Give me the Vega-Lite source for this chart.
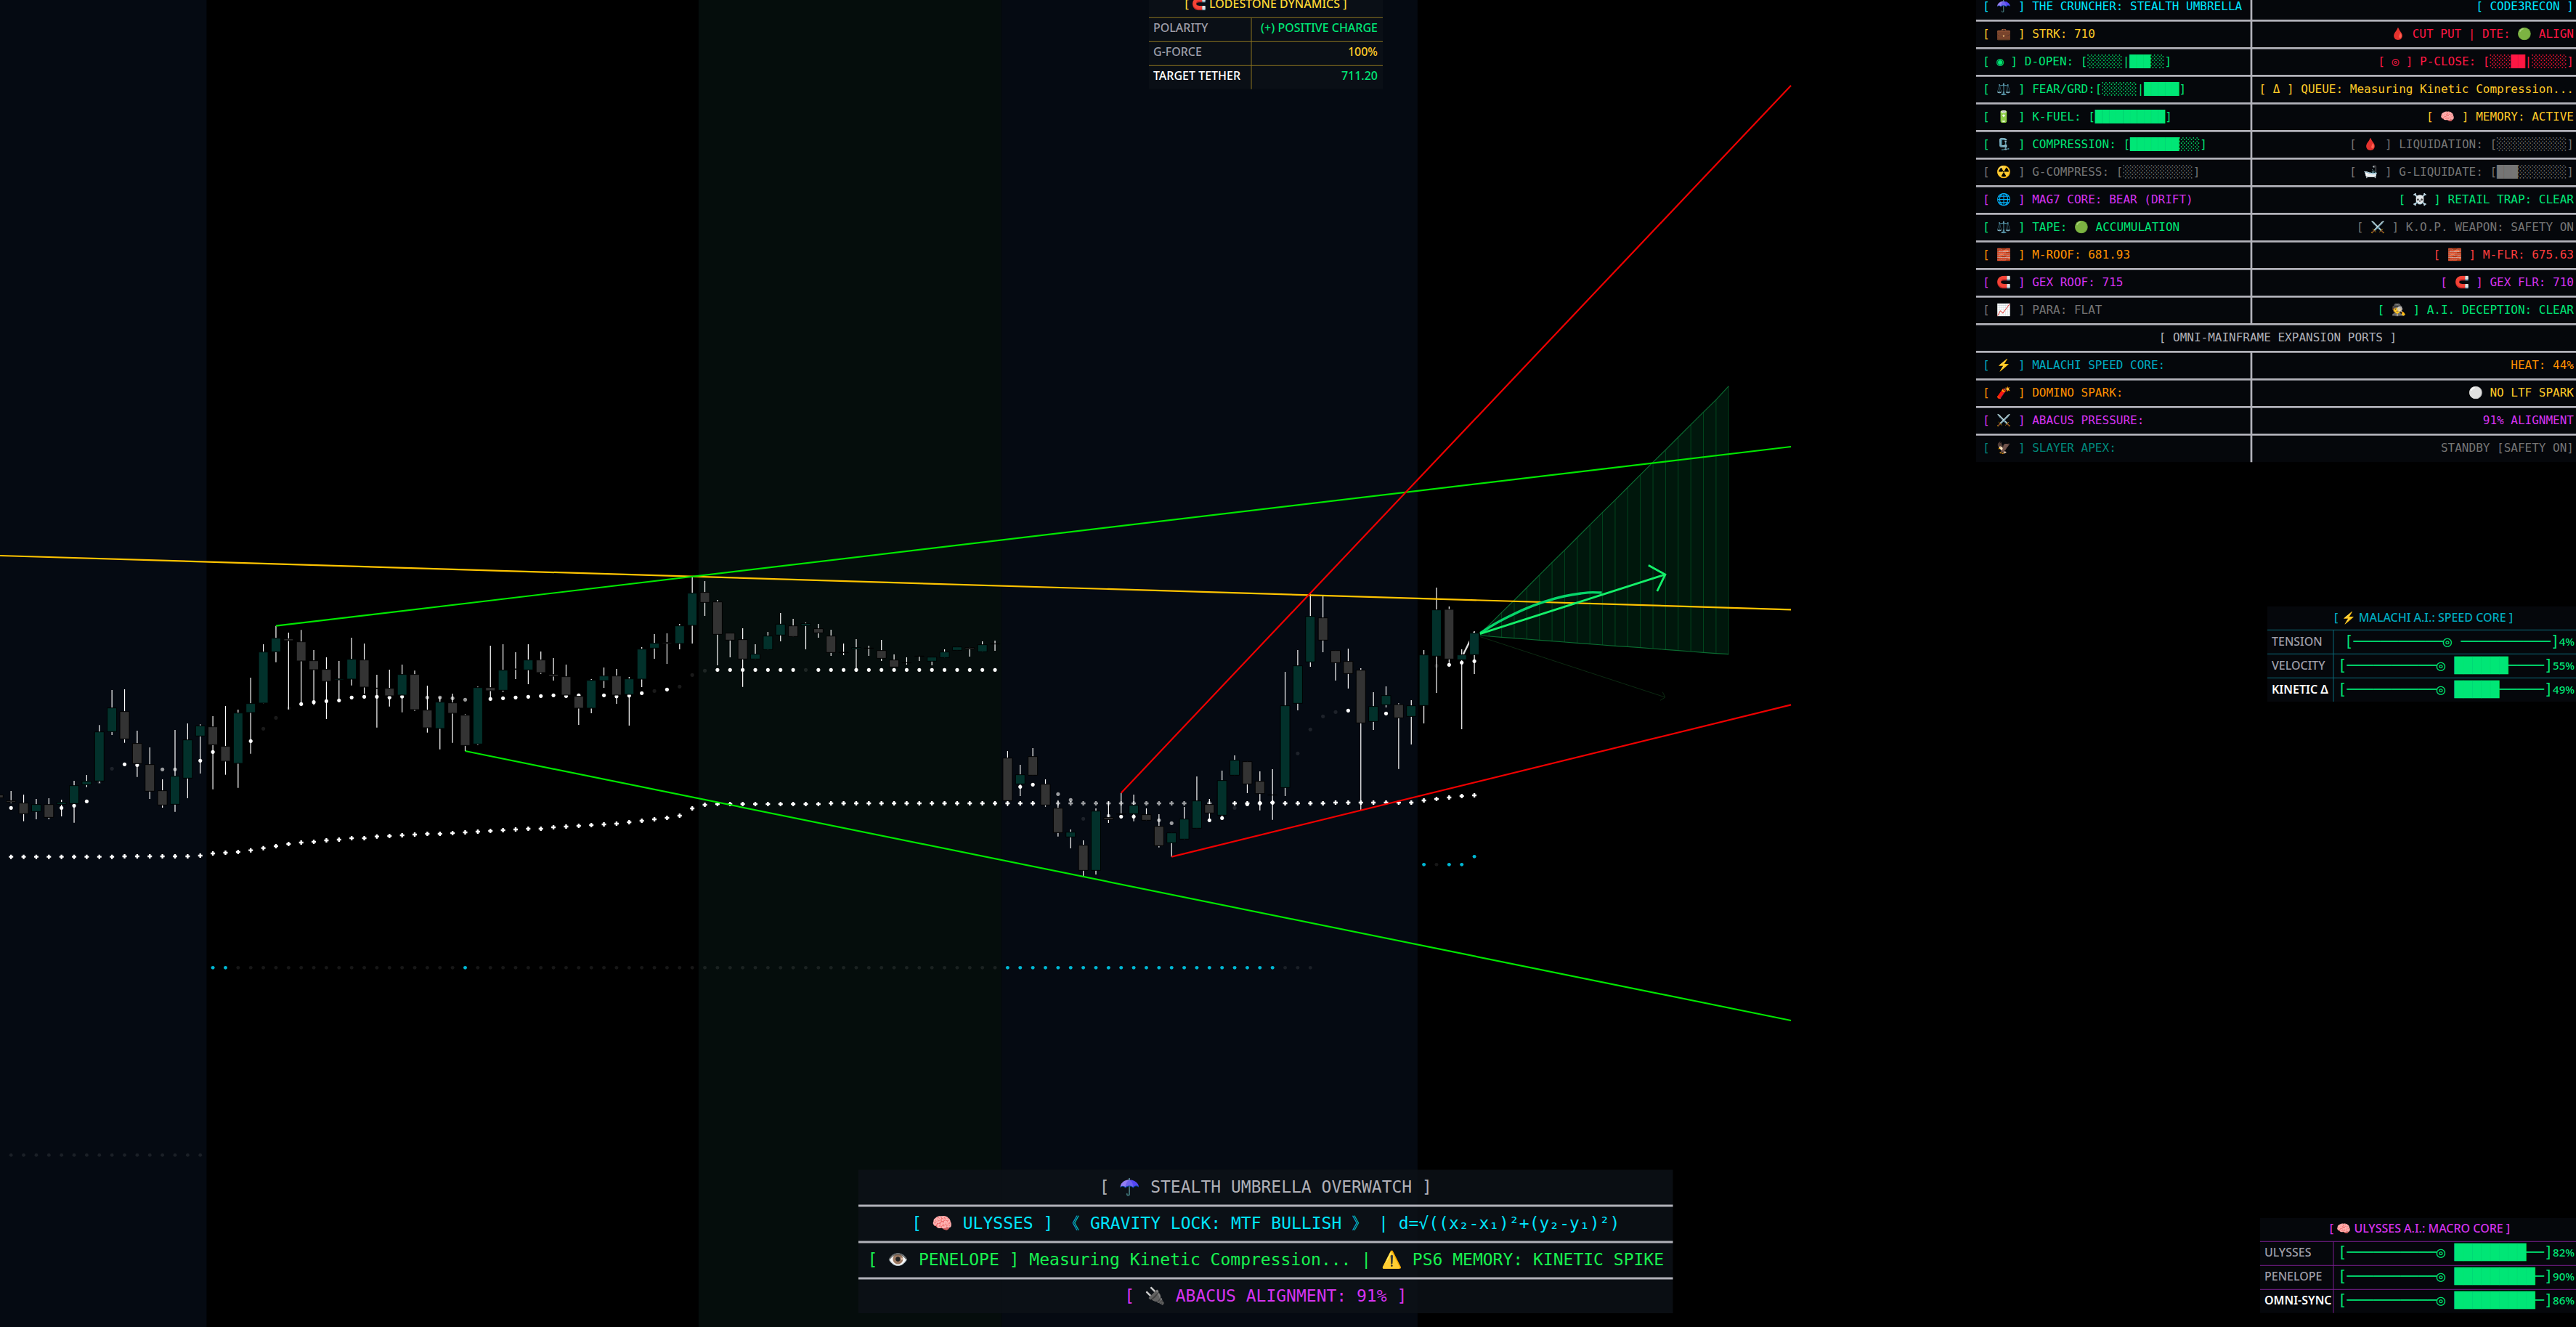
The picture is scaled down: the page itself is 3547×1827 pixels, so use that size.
{"$schema":"https://vega.github.io/schema/vega-lite/v6.json","width":3547,"height":1827,"padding":0,"autosize":"none","background":"#000000",
"config":{"view":{"stroke":null},"axis":{"disable":true},"legend":{"disable":true}},
"resolve":{"scale":{"x":"independent","y":"independent","color":"independent","opacity":"independent"}},
"datasets":{
"bands":[{"from":-0.875,"to":15.5,"z":"navy"},{"from":54.5,"to":78.5,"z":"forest"},{"from":78.5,"to":111.5,"z":"navy"}],
"candles":[
{"i":-1,"h":710.57,"l":710.45,"o":710.57,"c":710.45,"d":"down"},
{"i":0,"h":710.73,"l":710.22,"o":710.33,"c":710.27,"d":"down"},
{"i":1,"h":710.58,"l":709.48,"o":710.23,"c":709.79,"d":"down"},
{"i":2,"h":710.40,"l":709.56,"o":709.88,"c":710.17,"d":"up"},
{"i":3,"h":710.43,"l":709.56,"o":710.17,"c":709.64,"d":"down"},
{"i":4,"h":710.37,"l":709.68,"o":710.18,"c":710.26,"d":"up"},
{"i":5,"h":711.15,"l":709.42,"o":710.21,"c":710.95,"d":"up"},
{"i":6,"h":711.39,"l":710.89,"o":710.99,"c":711.13,"d":"up"},
{"i":7,"h":713.45,"l":711.05,"o":711.14,"c":713.17,"d":"up"},
{"i":8,"h":714.90,"l":713.04,"o":713.18,"c":714.16,"d":"up"},
{"i":9,"h":714.93,"l":712.72,"o":714.01,"c":712.88,"d":"down"},
{"i":10,"h":713.22,"l":711.31,"o":712.69,"c":711.86,"d":"down"},
{"i":11,"h":712.53,"l":710.40,"o":711.82,"c":710.72,"d":"down"},
{"i":12,"h":711.21,"l":710.04,"o":710.74,"c":710.15,"d":"down"},
{"i":13,"h":713.25,"l":709.87,"o":710.18,"c":711.34,"d":"up"},
{"i":14,"h":713.52,"l":710.43,"o":711.26,"c":712.84,"d":"up"},
{"i":15,"h":713.48,"l":711.45,"o":713.00,"c":713.42,"d":"up"},
{"i":16,"h":713.82,"l":710.80,"o":713.38,"c":712.64,"d":"down"},
{"i":17,"h":714.24,"l":711.40,"o":712.57,"c":711.96,"d":"down"},
{"i":18,"h":714.09,"l":710.86,"o":711.87,"c":713.95,"d":"up"},
{"i":19,"h":715.41,"l":712.27,"o":713.97,"c":714.34,"d":"up"},
{"i":20,"h":716.79,"l":714.35,"o":714.36,"c":716.47,"d":"up"},
{"i":21,"h":717.55,"l":716.05,"o":716.48,"c":717.04,"d":"up"},
{"i":22,"h":717.27,"l":714.10,"o":717.01,"c":716.94,"d":"down"},
{"i":23,"h":717.38,"l":714.30,"o":716.89,"c":716.10,"d":"down"},
{"i":24,"h":716.55,"l":714.28,"o":716.11,"c":715.74,"d":"down"},
{"i":25,"h":716.25,"l":713.70,"o":715.75,"c":715.26,"d":"down"},
{"i":26,"h":716.10,"l":714.45,"o":715.32,"c":715.36,"d":"up"},
{"i":27,"h":717.06,"l":715.09,"o":715.35,"c":716.17,"d":"up"},
{"i":28,"h":716.82,"l":714.75,"o":716.14,"c":715.02,"d":"down"},
{"i":29,"h":715.53,"l":713.35,"o":714.98,"c":714.96,"d":"down"},
{"i":30,"h":715.74,"l":714.22,"o":714.97,"c":714.66,"d":"down"},
{"i":31,"h":715.95,"l":713.98,"o":714.69,"c":715.54,"d":"up"},
{"i":32,"h":715.70,"l":714.04,"o":715.54,"c":714.09,"d":"down"},
{"i":33,"h":715.08,"l":713.14,"o":714.07,"c":713.34,"d":"down"},
{"i":34,"h":714.60,"l":712.45,"o":713.31,"c":714.40,"d":"up"},
{"i":35,"h":714.75,"l":712.72,"o":714.37,"c":713.94,"d":"down"},
{"i":36,"h":713.90,"l":712.38,"o":713.86,"c":712.61,"d":"down"},
{"i":37,"h":715.04,"l":712.63,"o":712.67,"c":715.00,"d":"up"},
{"i":38,"h":716.73,"l":714.55,"o":715.00,"c":714.87,"d":"down"},
{"i":39,"h":716.79,"l":714.82,"o":714.89,"c":715.72,"d":"up"},
{"i":40,"h":716.46,"l":715.35,"o":715.77,"c":715.75,"d":"down"},
{"i":41,"h":716.79,"l":715.14,"o":715.73,"c":716.14,"d":"up"},
{"i":42,"h":716.49,"l":715.57,"o":716.14,"c":715.62,"d":"down"},
{"i":43,"h":716.22,"l":715.29,"o":715.54,"c":715.47,"d":"down"},
{"i":44,"h":715.95,"l":714.60,"o":715.45,"c":714.69,"d":"down"},
{"i":45,"h":714.70,"l":713.46,"o":714.64,"c":714.15,"d":"down"},
{"i":46,"h":715.35,"l":713.94,"o":714.15,"c":715.30,"d":"up"},
{"i":47,"h":715.83,"l":714.99,"o":715.29,"c":715.48,"d":"up"},
{"i":48,"h":715.77,"l":714.33,"o":715.48,"c":714.69,"d":"down"},
{"i":49,"h":715.44,"l":713.43,"o":714.72,"c":715.36,"d":"up"},
{"i":50,"h":716.67,"l":715.02,"o":715.35,"c":716.59,"d":"up"},
{"i":51,"h":717.21,"l":716.19,"o":716.63,"c":716.83,"d":"up"},
{"i":52,"h":717.24,"l":715.98,"o":716.86,"c":716.82,"d":"down"},
{"i":53,"h":717.63,"l":716.58,"o":716.82,"c":717.55,"d":"up"},
{"i":54,"h":719.58,"l":716.82,"o":717.57,"c":718.90,"d":"up"},
{"i":55,"h":719.40,"l":717.96,"o":718.93,"c":718.52,"d":"down"},
{"i":56,"h":718.62,"l":715.92,"o":718.54,"c":717.20,"d":"down"},
{"i":57,"h":717.25,"l":716.25,"o":717.25,"c":716.96,"d":"down"},
{"i":58,"h":717.45,"l":715.03,"o":716.98,"c":716.18,"d":"down"},
{"i":59,"h":716.79,"l":716.17,"o":716.18,"c":716.38,"d":"up"},
{"i":60,"h":717.30,"l":716.55,"o":716.57,"c":717.13,"d":"up"},
{"i":61,"h":718.08,"l":716.91,"o":717.17,"c":717.62,"d":"up"},
{"i":62,"h":717.84,"l":717.10,"o":717.55,"c":717.11,"d":"down"},
{"i":63,"h":717.69,"l":716.58,"o":717.56,"c":717.64,"d":"up"},
{"i":64,"h":717.63,"l":717.06,"o":717.43,"c":717.26,"d":"down"},
{"i":65,"h":717.39,"l":716.31,"o":717.13,"c":716.45,"d":"down"},
{"i":66,"h":716.82,"l":716.34,"o":716.46,"c":716.44,"d":"down"},
{"i":67,"h":717.00,"l":715.65,"o":716.60,"c":716.65,"d":"up"},
{"i":68,"h":716.73,"l":716.31,"o":716.63,"c":716.62,"d":"down"},
{"i":69,"h":716.97,"l":716.10,"o":716.53,"c":716.21,"d":"down"},
{"i":70,"h":716.37,"l":715.85,"o":716.14,"c":715.85,"d":"down"},
{"i":71,"h":716.25,"l":715.95,"o":716.03,"c":716.02,"d":"down"},
{"i":72,"h":716.31,"l":716.10,"o":716.30,"c":716.29,"d":"down"},
{"i":73,"h":716.26,"l":715.92,"o":716.09,"c":716.26,"d":"up"},
{"i":74,"h":716.58,"l":716.23,"o":716.24,"c":716.47,"d":"up"},
{"i":75,"h":716.68,"l":716.54,"o":716.54,"c":716.68,"d":"up"},
{"i":76,"h":716.66,"l":716.28,"o":716.65,"c":716.60,"d":"down"},
{"i":77,"h":716.91,"l":716.47,"o":716.48,"c":716.77,"d":"up"},
{"i":78,"h":716.94,"l":716.52,"o":716.81,"c":716.80,"d":"down"},
{"i":79,"h":712.38,"l":710.10,"o":712.09,"c":710.33,"d":"down"},
{"i":80,"h":711.81,"l":710.52,"o":711.02,"c":711.40,"d":"up"},
{"i":81,"h":712.50,"l":711.38,"o":712.15,"c":711.38,"d":"down"},
{"i":82,"h":711.21,"l":710.08,"o":711.01,"c":710.15,"d":"down"},
{"i":83,"h":710.35,"l":708.85,"o":710.02,"c":709.01,"d":"down"},
{"i":84,"h":709.14,"l":708.36,"o":708.83,"c":709.03,"d":"up"},
{"i":85,"h":708.69,"l":707.19,"o":708.49,"c":707.45,"d":"down"},
{"i":86,"h":710.01,"l":707.28,"o":707.45,"c":709.90,"d":"up"},
{"i":87,"h":710.30,"l":709.41,"o":709.63,"c":709.55,"d":"down"},
{"i":88,"h":710.65,"l":709.78,"o":709.79,"c":709.77,"d":"down"},
{"i":89,"h":710.58,"l":709.48,"o":709.79,"c":710.14,"d":"up"},
{"i":90,"h":710.01,"l":709.51,"o":709.75,"c":709.52,"d":"down"},
{"i":91,"h":709.77,"l":708.40,"o":709.27,"c":708.47,"d":"down"},
{"i":92,"h":709.00,"l":708.01,"o":708.59,"c":709.00,"d":"up"},
{"i":93,"h":710.07,"l":708.73,"o":708.74,"c":709.57,"d":"up"},
{"i":94,"h":711.33,"l":709.19,"o":709.19,"c":710.32,"d":"up"},
{"i":95,"h":710.40,"l":709.52,"o":710.17,"c":709.82,"d":"down"},
{"i":96,"h":711.57,"l":709.60,"o":709.73,"c":711.16,"d":"up"},
{"i":97,"h":712.20,"l":711.38,"o":711.38,"c":712.00,"d":"up"},
{"i":98,"h":711.94,"l":710.64,"o":711.94,"c":711.02,"d":"down"},
{"i":99,"h":711.54,"l":709.93,"o":711.13,"c":710.62,"d":"down"},
{"i":100,"h":711.63,"l":709.54,"o":710.57,"c":710.56,"d":"down"},
{"i":101,"h":715.65,"l":710.52,"o":710.87,"c":714.25,"d":"up"},
{"i":102,"h":716.55,"l":714.06,"o":714.35,"c":715.90,"d":"up"},
{"i":103,"h":718.88,"l":715.86,"o":716.06,"c":717.94,"d":"up"},
{"i":104,"h":718.78,"l":716.46,"o":717.88,"c":716.96,"d":"down"},
{"i":105,"h":716.53,"l":715.29,"o":716.53,"c":716.03,"d":"down"},
{"i":106,"h":716.61,"l":714.96,"o":716.08,"c":715.58,"d":"down"},
{"i":107,"h":715.80,"l":709.93,"o":715.72,"c":713.54,"d":"down"},
{"i":108,"h":714.81,"l":713.25,"o":713.60,"c":714.22,"d":"up"},
{"i":109,"h":715.05,"l":714.18,"o":714.29,"c":714.67,"d":"up"},
{"i":110,"h":714.35,"l":711.64,"o":714.30,"c":713.75,"d":"down"},
{"i":111,"h":714.48,"l":712.65,"o":713.81,"c":714.25,"d":"up"},
{"i":112,"h":716.55,"l":713.52,"o":714.26,"c":716.35,"d":"up"},
{"i":113,"h":719.13,"l":714.78,"o":716.30,"c":718.21,"d":"up"},
{"i":114,"h":718.35,"l":716.02,"o":718.23,"c":716.18,"d":"down"},
{"i":115,"h":716.58,"l":713.28,"o":716.15,"c":716.35,"d":"up"},
{"i":116,"h":717.33,"l":715.56,"o":716.36,"c":717.25,"d":"up"}
],
"trail":[
{"i":0,"p":710.03,"s":1},{"i":4,"p":710.03,"s":1},{"i":5,"p":710.12,"s":1},{"i":6,"p":710.30,"s":1},{"i":7,"p":711.10,"s":0.1},{"i":8,"p":711.65,"s":0.1},{"i":9,"p":711.83,"s":1},{"i":10,"p":711.80,"s":1},{"i":12,"p":711.62,"s":0.6},{"i":13,"p":711.62,"s":0.6},{"i":15,"p":711.98,"s":1},{"i":16,"p":712.34,"s":1},{"i":19,"p":712.79,"s":1},{"i":20,"p":713.30,"s":0.1},{"i":21,"p":713.75,"s":0.1},{"i":22,"p":714.15,"s":0.1},{"i":23,"p":714.32,"s":1},{"i":24,"p":714.40,"s":1},{"i":25,"p":714.44,"s":1},{"i":26,"p":714.47,"s":1},{"i":27,"p":714.59,"s":1},{"i":28,"p":714.62,"s":1},{"i":29,"p":714.62,"s":1},{"i":30,"p":714.59,"s":1},{"i":31,"p":714.63,"s":1},{"i":33,"p":714.59,"s":0.6},{"i":34,"p":714.59,"s":0.6},{"i":35,"p":714.56,"s":0.6},{"i":36,"p":714.50,"s":0.6},{"i":38,"p":714.53,"s":1},{"i":39,"p":714.56,"s":1},
{"i":40,"p":714.59,"s":1},{"i":41,"p":714.62,"s":1},{"i":42,"p":714.65,"s":1},{"i":43,"p":714.68,"s":1},{"i":44,"p":714.65,"s":1},{"i":45,"p":714.68,"s":1},{"i":47,"p":714.68,"s":1},{"i":48,"p":714.64,"s":1},{"i":49,"p":714.67,"s":1},{"i":50,"p":714.77,"s":1},{"i":51,"p":714.86,"s":0.1},{"i":52,"p":714.92,"s":1},{"i":53,"p":715.04,"s":0.1},{"i":54,"p":715.52,"s":0.1},{"i":55,"p":715.70,"s":0.1},
{"i":56,"p":715.73,"s":1},{"i":57,"p":715.73,"s":1},{"i":58,"p":715.73,"s":1},{"i":59,"p":715.73,"s":1},{"i":60,"p":715.73,"s":1},{"i":61,"p":715.73,"s":1},{"i":62,"p":715.73,"s":1},{"i":63,"p":715.73,"s":0.1},{"i":64,"p":715.73,"s":1},{"i":65,"p":715.73,"s":1},{"i":66,"p":715.73,"s":1},{"i":67,"p":715.73,"s":1},{"i":68,"p":715.73,"s":1},{"i":69,"p":715.73,"s":1},{"i":70,"p":715.73,"s":1},{"i":71,"p":715.73,"s":1},{"i":72,"p":715.73,"s":1},{"i":73,"p":715.73,"s":1},{"i":74,"p":715.73,"s":1},{"i":75,"p":715.73,"s":1},{"i":76,"p":715.73,"s":1},{"i":77,"p":715.73,"s":1},{"i":78,"p":715.73,"s":1},
{"i":80,"p":710.90,"s":1},{"i":81,"p":710.99,"s":1},{"i":83,"p":710.60,"s":0.6},{"i":84,"p":710.36,"s":0.6},{"i":85,"p":709.58,"s":0.1},{"i":87,"p":709.70,"s":0.6},{"i":88,"p":709.67,"s":1},{"i":89,"p":709.67,"s":1},{"i":91,"p":709.52,"s":0.6},{"i":92,"p":709.40,"s":0.6},{"i":95,"p":709.52,"s":1},{"i":96,"p":709.61,"s":1},{"i":97,"p":710.03,"s":0.1},{"i":98,"p":710.18,"s":1},{"i":99,"p":710.23,"s":1},{"i":100,"p":710.25,"s":1},{"i":102,"p":712.28,"s":0.1},{"i":103,"p":713.27,"s":0.1},{"i":104,"p":713.81,"s":0.1},{"i":105,"p":713.99,"s":0.1},{"i":106,"p":714.05,"s":1},{"i":109,"p":713.93,"s":1},{"i":113,"p":715.90,"s":0.1},{"i":114,"p":715.94,"s":1},{"i":115,"p":716.03,"s":1},{"i":116,"p":716.09,"s":1}
],
"quiet":[
{"i":0,"p":695.69},{"i":1,"p":695.69},{"i":2,"p":695.69},{"i":3,"p":695.69},{"i":4,"p":695.69},{"i":5,"p":695.69},{"i":6,"p":695.69},{"i":7,"p":695.69},{"i":8,"p":695.69},{"i":9,"p":695.69},{"i":10,"p":695.69},{"i":11,"p":695.69},{"i":12,"p":695.69},{"i":13,"p":695.69},{"i":14,"p":695.69},{"i":15,"p":695.69},
{"i":18,"p":703.43},{"i":19,"p":703.43},{"i":20,"p":703.43},{"i":21,"p":703.43},{"i":22,"p":703.43},{"i":23,"p":703.43},{"i":24,"p":703.43},{"i":25,"p":703.43},{"i":26,"p":703.43},{"i":27,"p":703.43},{"i":28,"p":703.43},{"i":29,"p":703.43},{"i":30,"p":703.43},{"i":31,"p":703.43},{"i":32,"p":703.43},{"i":33,"p":703.43},{"i":34,"p":703.43},{"i":35,"p":703.43},
{"i":37,"p":703.43},{"i":38,"p":703.43},{"i":39,"p":703.43},{"i":40,"p":703.43},{"i":41,"p":703.43},{"i":42,"p":703.43},{"i":43,"p":703.43},{"i":44,"p":703.43},{"i":45,"p":703.43},{"i":46,"p":703.43},{"i":47,"p":703.43},{"i":48,"p":703.43},{"i":49,"p":703.43},{"i":50,"p":703.43},{"i":51,"p":703.43},{"i":52,"p":703.43},{"i":53,"p":703.43},{"i":54,"p":703.43},{"i":55,"p":703.43},{"i":56,"p":703.43},{"i":57,"p":703.43},{"i":58,"p":703.43},{"i":59,"p":703.43},{"i":60,"p":703.43},{"i":61,"p":703.43},{"i":62,"p":703.43},{"i":63,"p":703.43},{"i":64,"p":703.43},{"i":65,"p":703.43},{"i":66,"p":703.43},{"i":67,"p":703.43},{"i":68,"p":703.43},{"i":69,"p":703.43},{"i":70,"p":703.43},{"i":71,"p":703.43},{"i":72,"p":703.43},{"i":73,"p":703.43},{"i":74,"p":703.43},{"i":75,"p":703.43},{"i":76,"p":703.43},{"i":77,"p":703.43},{"i":78,"p":703.43},
{"i":101,"p":703.43},{"i":102,"p":703.43},{"i":103,"p":703.43},{"i":113,"p":707.69}
],
"cyan":[
{"i":16,"p":703.43},{"i":17,"p":703.43},{"i":36,"p":703.43},{"i":79,"p":703.43},{"i":80,"p":703.43},{"i":81,"p":703.43},{"i":82,"p":703.43},{"i":83,"p":703.43},{"i":84,"p":703.43},{"i":85,"p":703.43},{"i":86,"p":703.43},{"i":87,"p":703.43},{"i":88,"p":703.43},{"i":89,"p":703.43},{"i":90,"p":703.43},{"i":91,"p":703.43},{"i":92,"p":703.43},{"i":93,"p":703.43},{"i":94,"p":703.43},{"i":95,"p":703.43},{"i":96,"p":703.43},{"i":97,"p":703.43},{"i":98,"p":703.43},{"i":99,"p":703.43},{"i":100,"p":703.43},
{"i":112,"p":707.69},{"i":114,"p":707.69},{"i":115,"p":707.69},{"i":116,"p":708.02}
],
"crosses":[
{"i":0,"p":708.01,"s":1},{"i":1,"p":708.01,"s":1},{"i":2,"p":708.01,"s":1},{"i":3,"p":708.01,"s":1},{"i":4,"p":708.01,"s":1},{"i":5,"p":708.01,"s":1},{"i":6,"p":708.01,"s":1},{"i":7,"p":708.01,"s":1},{"i":8,"p":708.01,"s":1},{"i":9,"p":708.03,"s":1},{"i":10,"p":708.03,"s":1},{"i":11,"p":708.03,"s":1},{"i":12,"p":708.03,"s":1},{"i":13,"p":708.03,"s":1},{"i":14,"p":708.03,"s":1},{"i":15,"p":708.06,"s":1},{"i":16,"p":708.15,"s":1},{"i":17,"p":708.18,"s":1},{"i":18,"p":708.21,"s":1},{"i":19,"p":708.28,"s":1},{"i":20,"p":708.37,"s":1},{"i":21,"p":708.45,"s":1},{"i":22,"p":708.54,"s":1},{"i":23,"p":708.60,"s":1},{"i":24,"p":708.63,"s":1},{"i":25,"p":708.69,"s":1},{"i":26,"p":708.72,"s":1},{"i":27,"p":708.78,"s":1},{"i":28,"p":708.78,"s":1},{"i":29,"p":708.85,"s":1},{"i":30,"p":708.87,"s":1},{"i":31,"p":708.90,"s":1},{"i":32,"p":708.93,"s":1},{"i":33,"p":708.96,"s":1},{"i":34,"p":708.96,"s":1},{"i":35,"p":708.99,"s":1},{"i":36,"p":709.02,"s":1},{"i":37,"p":709.05,"s":1},{"i":38,"p":709.08,"s":1},{"i":39,"p":709.11,"s":1},
{"i":40,"p":709.14,"s":1},{"i":41,"p":709.17,"s":1},{"i":42,"p":709.17,"s":1},{"i":43,"p":709.23,"s":1},{"i":44,"p":709.26,"s":1},{"i":45,"p":709.29,"s":1},{"i":46,"p":709.32,"s":1},{"i":47,"p":709.35,"s":1},{"i":48,"p":709.38,"s":1},{"i":49,"p":709.44,"s":1},{"i":50,"p":709.50,"s":1},{"i":51,"p":709.56,"s":1},{"i":52,"p":709.62,"s":1},{"i":53,"p":709.71,"s":1},{"i":54,"p":710.01,"s":1},{"i":55,"p":710.16,"s":1},
{"i":56,"p":710.19,"s":1},{"i":57,"p":710.19,"s":1},{"i":58,"p":710.19,"s":1},{"i":59,"p":710.19,"s":1},{"i":60,"p":710.19,"s":1},{"i":61,"p":710.19,"s":1},{"i":62,"p":710.19,"s":1},{"i":63,"p":710.19,"s":1},{"i":64,"p":710.19,"s":1},{"i":65,"p":710.22,"s":1},{"i":66,"p":710.22,"s":1},{"i":67,"p":710.22,"s":1},{"i":68,"p":710.22,"s":1},{"i":69,"p":710.22,"s":1},{"i":70,"p":710.22,"s":1},{"i":71,"p":710.22,"s":1},{"i":72,"p":710.22,"s":1},{"i":73,"p":710.22,"s":1},{"i":74,"p":710.22,"s":1},{"i":75,"p":710.22,"s":1},{"i":76,"p":710.22,"s":1},{"i":77,"p":710.22,"s":1},{"i":78,"p":710.22,"s":1},{"i":79,"p":710.22,"s":1},
{"i":80,"p":710.22,"s":1},{"i":81,"p":710.22,"s":1},{"i":82,"p":710.22,"s":1},{"i":83,"p":710.22,"s":0.6},{"i":84,"p":710.22,"s":0.6},{"i":85,"p":710.22,"s":0.6},{"i":86,"p":710.22,"s":0.6},{"i":87,"p":710.22,"s":0.6},{"i":88,"p":710.22,"s":0.6},{"i":89,"p":710.22,"s":0.6},{"i":90,"p":710.22,"s":0.6},{"i":91,"p":710.22,"s":0.6},{"i":92,"p":710.22,"s":0.6},{"i":93,"p":710.22,"s":0.6},{"i":94,"p":710.22,"s":0.6},{"i":95,"p":710.22,"s":0.6},{"i":96,"p":710.22,"s":1},{"i":97,"p":710.22,"s":1},{"i":98,"p":710.22,"s":1},{"i":99,"p":710.22,"s":1},{"i":100,"p":710.25,"s":1},{"i":101,"p":710.22,"s":1},{"i":102,"p":710.22,"s":1},{"i":103,"p":710.22,"s":1},{"i":104,"p":710.22,"s":1},{"i":105,"p":710.25,"s":1},{"i":106,"p":710.25,"s":1},{"i":107,"p":710.25,"s":1},{"i":108,"p":710.25,"s":1},{"i":109,"p":710.25,"s":1},{"i":110,"p":710.25,"s":1},{"i":111,"p":710.25,"s":1},{"i":112,"p":710.34,"s":1},{"i":113,"p":710.40,"s":1},{"i":114,"p":710.46,"s":1},{"i":115,"p":710.52,"s":1},{"i":116,"p":710.55,"s":1}
],
"fan":[
{"i":116.45,"top":717.22,"bot":717.15},{"i":117.16,"top":717.58,"bot":717.12},{"i":118.16,"top":718.10,"bot":717.08},{"i":119.16,"top":718.61,"bot":717.04},{"i":120.16,"top":719.13,"bot":717.00},{"i":121.16,"top":719.65,"bot":716.96},{"i":122.16,"top":720.17,"bot":716.92},{"i":123.16,"top":720.68,"bot":716.88},{"i":124.16,"top":721.20,"bot":716.84},{"i":125.16,"top":721.72,"bot":716.80},{"i":126.16,"top":722.24,"bot":716.76},{"i":127.16,"top":722.75,"bot":716.72},{"i":128.16,"top":723.27,"bot":716.69},{"i":129.16,"top":723.79,"bot":716.65},{"i":130.16,"top":724.31,"bot":716.61},{"i":131.16,"top":724.82,"bot":716.57},{"i":132.16,"top":725.34,"bot":716.53},{"i":133.16,"top":725.86,"bot":716.49},{"i":134.16,"top":726.38,"bot":716.45},{"i":135.16,"top":726.89,"bot":716.41},{"i":136.16,"top":727.45,"bot":716.38}
],
"trends":[
{"n":"gold","seg":"a","i":-0.875,"p":720.45},{"n":"gold","seg":"a","i":141.1,"p":718.22},
{"n":"lime","seg":"b","i":21,"p":717.55},{"n":"lime","seg":"b","i":141.1,"p":724.95},
{"n":"lime","seg":"c","i":36,"p":712.38},{"n":"lime","seg":"c","i":141.1,"p":701.25},
{"n":"scarlet","seg":"d","i":88,"p":710.65},{"n":"scarlet","seg":"d","i":141.1,"p":739.87},
{"n":"scarlet","seg":"e","i":92,"p":708.01},{"n":"scarlet","seg":"e","i":141.1,"p":714.29}
],
"arrows":[
{"k":"bright","seg":"shaft","ord":0,"i":116.45,"p":717.22},{"k":"bright","seg":"shaft","ord":1,"i":131.13,"p":719.67},
{"k":"bright","seg":"head","ord":0,"i":129.8,"p":720.05},{"k":"bright","seg":"head","ord":1,"i":131.13,"p":719.67},{"k":"bright","seg":"head","ord":2,"i":130.49,"p":718.98},
{"k":"arc","seg":"arc","ord":0,"i":116.47,"p":717.25},{"k":"arc","seg":"arc","ord":1,"i":117.53,"p":717.60},{"k":"arc","seg":"arc","ord":2,"i":118.68,"p":717.92},{"k":"arc","seg":"arc","ord":3,"i":120.02,"p":718.25},{"k":"arc","seg":"arc","ord":4,"i":121.56,"p":718.55},{"k":"arc","seg":"arc","ord":5,"i":123.09,"p":718.77},{"k":"arc","seg":"arc","ord":6,"i":124.44,"p":718.89},{"k":"arc","seg":"arc","ord":7,"i":125.39,"p":718.93},{"k":"arc","seg":"arc","ord":8,"i":126.1,"p":718.92},
{"k":"dim","seg":"dshaft","ord":0,"i":116.47,"p":717.10},{"k":"dim","seg":"dshaft","ord":1,"i":131.13,"p":714.60},
{"k":"dim","seg":"dhead","ord":0,"i":130.92,"p":714.82},{"k":"dim","seg":"dhead","ord":1,"i":131.13,"p":714.60},{"k":"dim","seg":"dhead","ord":2,"i":130.73,"p":714.47}
],
"glints":[{"i":115.13,"p":716.38,"ord":0},{"i":116,"p":717.30,"ord":1}],
"frames":[{"f":"core","x0":0,"x1":1,"y0":0.5,"y1":17.5},{"f":"dock","x0":0,"x1":1,"y0":0.51,"y1":4.46},{"f":"lode","x0":0,"x1":1,"y0":-0.5,"y1":3.53},{"f":"mal","x0":0,"x1":1,"y0":-0.47,"y1":3.5},{"f":"uly","x0":0,"x1":1,"y0":-0.46,"y1":3.5}],
"rules":[
{"f":"core","x0":0,"x1":1,"y0":1.5,"y1":1.5},{"f":"core","x0":0,"x1":1,"y0":2.5,"y1":2.5},{"f":"core","x0":0,"x1":1,"y0":3.5,"y1":3.5},{"f":"core","x0":0,"x1":1,"y0":4.5,"y1":4.5},{"f":"core","x0":0,"x1":1,"y0":5.5,"y1":5.5},{"f":"core","x0":0,"x1":1,"y0":6.5,"y1":6.5},{"f":"core","x0":0,"x1":1,"y0":7.5,"y1":7.5},{"f":"core","x0":0,"x1":1,"y0":8.5,"y1":8.5},{"f":"core","x0":0,"x1":1,"y0":9.5,"y1":9.5},{"f":"core","x0":0,"x1":1,"y0":10.5,"y1":10.5},{"f":"core","x0":0,"x1":1,"y0":11.5,"y1":11.5},{"f":"core","x0":0,"x1":1,"y0":12.5,"y1":12.5},{"f":"core","x0":0,"x1":1,"y0":13.5,"y1":13.5},{"f":"core","x0":0,"x1":1,"y0":14.5,"y1":14.5},{"f":"core","x0":0,"x1":1,"y0":15.5,"y1":15.5},{"f":"core","x0":0,"x1":1,"y0":16.5,"y1":16.5},
{"f":"core","x0":0.4588,"x1":0.4588,"y0":0.5,"y1":12.5},{"f":"core","x0":0.4588,"x1":0.4588,"y0":13.5,"y1":17.5},
{"f":"dock","x0":0,"x1":1,"y0":1.5,"y1":1.5},{"f":"dock","x0":0,"x1":1,"y0":2.5,"y1":2.5},{"f":"dock","x0":0,"x1":1,"y0":3.5,"y1":3.5},
{"f":"lode","x0":0,"x1":1,"y0":0.545,"y1":0.545},{"f":"lode","x0":0,"x1":1,"y0":1.545,"y1":1.545},{"f":"lode","x0":0,"x1":1,"y0":2.545,"y1":2.545},{"f":"lode","x0":0.438,"x1":0.438,"y0":0.545,"y1":3.53},
{"f":"mal","x0":0,"x1":1,"y0":0.506,"y1":0.506},{"f":"mal","x0":0,"x1":1,"y0":1.506,"y1":1.506},{"f":"mal","x0":0,"x1":1,"y0":2.506,"y1":2.506},{"f":"mal","x0":0.2141,"x1":0.2141,"y0":0.506,"y1":3.5},
{"f":"uly","x0":0,"x1":1,"y0":0.515,"y1":0.515},{"f":"uly","x0":0,"x1":1,"y0":1.515,"y1":1.515},{"f":"uly","x0":0,"x1":1,"y0":2.515,"y1":2.515},{"f":"uly","x0":0.2322,"x1":0.2322,"y0":0.515,"y1":3.5}
],
"core":[
{"r":1,"side":"L","t":"[ ☂️ ] THE CRUNCHER: STEALTH UMBRELLA","tone":"cyan"},{"r":1,"side":"R","t":"[ CODE3RECON ]","tone":"cyan"},
{"r":2,"side":"L","t":"[ 💼 ] STRK: 710","tone":"yellow"},{"r":2,"side":"R","t":"🩸 CUT PUT | DTE: 🟢 ALIGN","tone":"red"},
{"r":3,"side":"L","t":"[ ◉ ] D-OPEN: [░░░░░|███░░]","tone":"green"},{"r":3,"side":"R","t":"[ ◎ ] P-CLOSE: [░░░██|░░░░░]","tone":"red"},
{"r":4,"side":"L","t":"[ ⚖️ ] FEAR/GRD:[░░░░░|█████]","tone":"green"},{"r":4,"side":"R","t":"[ Δ ] QUEUE: Measuring Kinetic Compression...","tone":"yellow"},
{"r":5,"side":"L","t":"[ 🔋 ] K-FUEL: [██████████]","tone":"green"},{"r":5,"side":"R","t":"[ 🧠 ] MEMORY: ACTIVE","tone":"yellow"},
{"r":6,"side":"L","t":"[ 🗜️ ] COMPRESSION: [███████░░░]","tone":"green"},{"r":6,"side":"R","t":"[ 🩸 ] LIQUIDATION: [░░░░░░░░░░]","tone":"gray"},
{"r":7,"side":"L","t":"[ ☢️ ] G-COMPRESS: [░░░░░░░░░░]","tone":"gray"},{"r":7,"side":"R","t":"[ 🛁 ] G-LIQUIDATE: [███░░░░░░░]","tone":"gray"},
{"r":8,"side":"L","t":"[ 🌐 ] MAG7 CORE: BEAR (DRIFT)","tone":"magenta"},{"r":8,"side":"R","t":"[ ☠️ ] RETAIL TRAP: CLEAR","tone":"green"},
{"r":9,"side":"L","t":"[ ⚖️ ] TAPE: 🟢 ACCUMULATION","tone":"green"},{"r":9,"side":"R","t":"[ ⚔️ ] K.O.P. WEAPON: SAFETY ON","tone":"gray"},
{"r":10,"side":"L","t":"[ 🧱 ] M-ROOF: 681.93","tone":"orange"},{"r":10,"side":"R","t":"[ 🧱 ] M-FLR: 675.63","tone":"coral"},
{"r":11,"side":"L","t":"[ 🧲 ] GEX ROOF: 715","tone":"magenta"},{"r":11,"side":"R","t":"[ 🧲 ] GEX FLR: 710","tone":"magenta"},
{"r":12,"side":"L","t":"[ 📈 ] PARA: FLAT","tone":"gray"},{"r":12,"side":"R","t":"[ 🕵️ ] A.I. DECEPTION: CLEAR","tone":"green"},
{"r":13,"side":"C","t":"[ OMNI-MAINFRAME EXPANSION PORTS ]","tone":"light"},
{"r":14,"side":"L","t":"[ ⚡️ ] MALACHI SPEED CORE:","tone":"blue"},{"r":14,"side":"R","t":"HEAT: 44%","tone":"orange"},
{"r":15,"side":"L","t":"[ 🧨 ] DOMINO SPARK:","tone":"orange"},{"r":15,"side":"R","t":"⚪ NO LTF SPARK","tone":"yellow"},
{"r":16,"side":"L","t":"[ ⚔️ ] ABACUS PRESSURE:","tone":"magenta"},{"r":16,"side":"R","t":"91% ALIGNMENT","tone":"magenta"},
{"r":17,"side":"L","t":"[ 🦅 ] SLAYER APEX:","tone":"teal"},{"r":17,"side":"R","t":"STANDBY [SAFETY ON]","tone":"gray"}
],
"dock":[
{"r":1,"t":"[ ☂️ STEALTH UMBRELLA OVERWATCH ]","tone":"light"},
{"r":2,"t":"[ 🧠 ULYSSES ] 《 GRAVITY LOCK: MTF BULLISH 》 | d=√((x₂-x₁)²+(y₂-y₁)²)","tone":"cyan"},
{"r":3,"t":"[ 👁️ PENELOPE ] Measuring Kinetic Compression... | ⚠️ PS6 MEMORY: KINETIC SPIKE","tone":"lime"},
{"r":4,"t":"[ 🔌 ABACUS ALIGNMENT: 91% ]","tone":"magenta"}
],
"lode":[
{"r":1,"a":"POLARITY","b":"(+) POSITIVE CHARGE","tone":"green","tl":"gray"},
{"r":2,"a":"G-FORCE","b":"100%","tone":"yellow","tl":"gray"},
{"r":3,"a":"TARGET TETHER","b":"711.20","tone":"green","tl":"white"}
],
"gauges":[
{"f":"mal","r":1,"a":"TENSION","pct":4,"g":"[──────────◎ ──────────]","b":"4%"},
{"f":"mal","r":2,"a":"VELOCITY","pct":55,"g":"[──────────◎ ██████────]","b":"55%"},
{"f":"mal","r":3,"a":"KINETIC Δ","pct":49,"g":"[──────────◎ █████─────]","b":"49%"},
{"f":"uly","r":1,"a":"ULYSSES","pct":82,"g":"[──────────◎ ████████──]","b":"82%"},
{"f":"uly","r":2,"a":"PENELOPE","pct":90,"g":"[──────────◎ █████████─]","b":"90%"},
{"f":"uly","r":3,"a":"OMNI-SYNC","pct":86,"g":"[──────────◎ █████████─]","b":"86%"}
]
},
"layer":[
{"resolve":{"scale":{"color":"independent","opacity":"independent"}},"layer":[
{"data":{"name":"bands"},"mark":{"type":"rect"},"encoding":{"x":{"field":"from","type":"quantitative","scale":{"domain":[-0.875,203.33],"range":[0,3547],"padding":0}},"x2":{"field":"to"},"y":{"datum":743.4,"type":"quantitative","scale":{"domain":[688.59,743.40],"range":[1827,0]}},"y2":{"datum":688.59},"color":{"field":"z","type":"nominal","scale":{"domain":["navy","forest"],"range":["#050a12","#050d0c"]}}}},
{"data":{"name":"fan"},"mark":{"type":"area","color":"#00e676","opacity":0.1},"encoding":{"x":{"field":"i","type":"quantitative","scale":{"domain":[-0.875,203.33],"range":[0,3547],"padding":0}},"y":{"field":"top","type":"quantitative","scale":{"domain":[688.59,743.40],"range":[1827,0]}},"y2":{"field":"bot"}}},
{"data":{"name":"fan"},"transform":[{"filter":"datum.i>117"}],"mark":{"type":"rule","color":"#00c853","opacity":0.26,"strokeWidth":1},"encoding":{"x":{"field":"i","type":"quantitative","scale":{"domain":[-0.875,203.33],"range":[0,3547],"padding":0}},"y":{"field":"top","type":"quantitative","scale":{"domain":[688.59,743.40],"range":[1827,0]}},"y2":{"field":"bot"}}},
{"data":{"name":"fan"},"mark":{"type":"line","color":"#0a6a30","strokeWidth":1.2},"encoding":{"x":{"field":"i","type":"quantitative","scale":{"domain":[-0.875,203.33],"range":[0,3547],"padding":0}},"y":{"field":"top","type":"quantitative","scale":{"domain":[688.59,743.40],"range":[1827,0]}}}},
{"data":{"name":"fan"},"mark":{"type":"line","color":"#0a6a30","strokeWidth":1.2},"encoding":{"x":{"field":"i","type":"quantitative","scale":{"domain":[-0.875,203.33],"range":[0,3547],"padding":0}},"y":{"field":"bot","type":"quantitative","scale":{"domain":[688.59,743.40],"range":[1827,0]}}}},
{"data":{"name":"candles"},"mark":{"type":"rule","color":"#ffffff","strokeWidth":1.2},"encoding":{"x":{"field":"i","type":"quantitative","scale":{"domain":[-0.875,203.33],"range":[0,3547],"padding":0}},"y":{"field":"h","type":"quantitative","scale":{"domain":[688.59,743.40],"range":[1827,0]}},"y2":{"field":"l"}}},
{"data":{"name":"quiet"},"mark":{"type":"point","filled":true,"shape":"circle","size":24,"color":"#ffffff","opacity":0.09},"encoding":{"x":{"field":"i","type":"quantitative","scale":{"domain":[-0.875,203.33],"range":[0,3547],"padding":0}},"y":{"field":"p","type":"quantitative","scale":{"domain":[688.59,743.40],"range":[1827,0]}}}},
{"data":{"name":"cyan"},"mark":{"type":"point","filled":true,"shape":"circle","size":24,"color":"#00b8d4","opacity":1},"encoding":{"x":{"field":"i","type":"quantitative","scale":{"domain":[-0.875,203.33],"range":[0,3547],"padding":0}},"y":{"field":"p","type":"quantitative","scale":{"domain":[688.59,743.40],"range":[1827,0]}}}},
{"data":{"name":"trail"},"mark":{"type":"point","filled":true,"shape":"circle","size":26,"color":"#ffffff"},"encoding":{"x":{"field":"i","type":"quantitative","scale":{"domain":[-0.875,203.33],"range":[0,3547],"padding":0}},"y":{"field":"p","type":"quantitative","scale":{"domain":[688.59,743.40],"range":[1827,0]}},"opacity":{"field":"s","type":"quantitative","scale":{"domain":[0,1],"range":[0,1]}}}},
{"data":{"name":"crosses"},"mark":{"type":"point","filled":true,"shape":"cross","size":36,"color":"#ffffff"},"encoding":{"x":{"field":"i","type":"quantitative","scale":{"domain":[-0.875,203.33],"range":[0,3547],"padding":0}},"y":{"field":"p","type":"quantitative","scale":{"domain":[688.59,743.40],"range":[1827,0]}},"opacity":{"field":"s","type":"quantitative","scale":{"domain":[0,1],"range":[0,1]}}}},
{"data":{"name":"glints"},"mark":{"type":"line","color":"#dddddd","strokeWidth":2.4},"encoding":{"x":{"field":"i","type":"quantitative","scale":{"domain":[-0.875,203.33],"range":[0,3547],"padding":0}},"y":{"field":"p","type":"quantitative","scale":{"domain":[688.59,743.40],"range":[1827,0]}},"order":{"field":"ord"}}},
{"data":{"name":"candles"},"mark":{"type":"bar","size":13,"stroke":"#000000","strokeWidth":1},"encoding":{"x":{"field":"i","type":"quantitative","scale":{"domain":[-0.875,203.33],"range":[0,3547],"padding":0}},"y":{"field":"o","type":"quantitative","scale":{"domain":[688.59,743.40],"range":[1827,0]}},"y2":{"field":"c"},"color":{"field":"d","type":"nominal","scale":{"domain":["up","down"],"range":["#02312b","#333333"]}}}},
{"data":{"name":"trends"},"mark":{"type":"line","strokeWidth":2.2,"clip":true},"encoding":{"x":{"field":"i","type":"quantitative","scale":{"domain":[-0.875,203.33],"range":[0,3547],"padding":0}},"y":{"field":"p","type":"quantitative","scale":{"domain":[688.59,743.40],"range":[1827,0]}},"detail":{"field":"seg"},"color":{"field":"n","type":"nominal","scale":{"domain":["gold","lime","scarlet"],"range":["#ffc400","#00e600","#ee0000"]}}}},
{"data":{"name":"arrows"},"transform":[{"filter":"datum.k=='dim'"}],"mark":{"type":"line","color":"#0c2a12","strokeWidth":1},"encoding":{"x":{"field":"i","type":"quantitative","scale":{"domain":[-0.875,203.33],"range":[0,3547],"padding":0}},"y":{"field":"p","type":"quantitative","scale":{"domain":[688.59,743.40],"range":[1827,0]}},"detail":{"field":"seg"},"order":{"field":"ord"}}},
{"data":{"name":"arrows"},"transform":[{"filter":"datum.k=='arc'"}],"mark":{"type":"line","color":"#06d66a","strokeWidth":3.4,"interpolate":"monotone"},"encoding":{"x":{"field":"i","type":"quantitative","scale":{"domain":[-0.875,203.33],"range":[0,3547],"padding":0}},"y":{"field":"p","type":"quantitative","scale":{"domain":[688.59,743.40],"range":[1827,0]}},"detail":{"field":"seg"},"order":{"field":"ord"}}},
{"data":{"name":"arrows"},"transform":[{"filter":"datum.k=='bright'"}],"mark":{"type":"line","color":"#14f06a","strokeWidth":2.8},"encoding":{"x":{"field":"i","type":"quantitative","scale":{"domain":[-0.875,203.33],"range":[0,3547],"padding":0}},"y":{"field":"p","type":"quantitative","scale":{"domain":[688.59,743.40],"range":[1827,0]}},"detail":{"field":"seg"},"order":{"field":"ord"}}}
]},
{"layer":[
{"data":{"name":"frames"},"transform":[{"filter":"datum.f=='core'"}],"mark":{"type":"rect","color":"#05070b"},"encoding":{"x":{"field":"x0","type":"quantitative","scale":{"domain":[0,1],"range":[2721,3547]}},"x2":{"field":"x1"},"y":{"field":"y0","type":"quantitative","scale":{"domain":[1,17],"range":[9.3,617.3]}},"y2":{"field":"y1"}}},
{"data":{"name":"rules"},"transform":[{"filter":"datum.f=='core'"}],"mark":{"type":"rule","color":"#b2b2ba","strokeWidth":2.7},"encoding":{"x":{"field":"x0","type":"quantitative","scale":{"domain":[0,1],"range":[2721,3547]}},"x2":{"field":"x1"},"y":{"field":"y0","type":"quantitative","scale":{"domain":[1,17],"range":[9.3,617.3]}},"y2":{"field":"y1"}}},
{"data":{"name":"core"},"transform":[{"filter":"datum.side=='L'"}],"mark":{"type":"text","font":"DejaVu Sans Mono","fontSize":16,"align":"left","baseline":"middle","dx":9},"encoding":{"x":{"datum":0,"type":"quantitative","scale":{"domain":[0,1],"range":[2721,3547]}},"y":{"field":"r","type":"quantitative","scale":{"domain":[1,17],"range":[9.3,617.3]}},"text":{"field":"t"},"color":{"field":"tone","type":"nominal","scale":{"domain":["cyan","yellow","red","green","gray","magenta","orange","coral","light","blue","teal"],"range":["#00e5ff","#ffca28","#ff1744","#00e676","#757575","#d633f0","#ff9100","#ff3d3d","#b0b0b8","#00acc1","#00897b"]}}}},
{"data":{"name":"core"},"transform":[{"filter":"datum.side=='R'"}],"mark":{"type":"text","font":"DejaVu Sans Mono","fontSize":16,"align":"right","baseline":"middle","dx":-3},"encoding":{"x":{"datum":1,"type":"quantitative","scale":{"domain":[0,1],"range":[2721,3547]}},"y":{"field":"r","type":"quantitative","scale":{"domain":[1,17],"range":[9.3,617.3]}},"text":{"field":"t"},"color":{"field":"tone","type":"nominal","scale":{"domain":["cyan","yellow","red","green","gray","magenta","orange","coral","light","blue","teal"],"range":["#00e5ff","#ffca28","#ff1744","#00e676","#757575","#d633f0","#ff9100","#ff3d3d","#b0b0b8","#00acc1","#00897b"]}}}},
{"data":{"name":"core"},"transform":[{"filter":"datum.side=='C'"}],"mark":{"type":"text","font":"DejaVu Sans Mono","fontSize":16,"align":"center","baseline":"middle"},"encoding":{"x":{"datum":0.503,"type":"quantitative","scale":{"domain":[0,1],"range":[2721,3547]}},"y":{"field":"r","type":"quantitative","scale":{"domain":[1,17],"range":[9.3,617.3]}},"text":{"field":"t"},"color":{"field":"tone","type":"nominal","scale":{"domain":["cyan","yellow","red","green","gray","magenta","orange","coral","light","blue","teal"],"range":["#00e5ff","#ffca28","#ff1744","#00e676","#757575","#d633f0","#ff9100","#ff3d3d","#b0b0b8","#00acc1","#00897b"]}}}}
]},
{"layer":[
{"data":{"name":"frames"},"transform":[{"filter":"datum.f=='dock'"}],"mark":{"type":"rect","color":"#0c1218","opacity":0.8},"encoding":{"x":{"field":"x0","type":"quantitative","scale":{"domain":[0,1],"range":[1182,2303.5]}},"x2":{"field":"x1"},"y":{"field":"y0","type":"quantitative","scale":{"domain":[1,4],"range":[1635,1785]}},"y2":{"field":"y1"}}},
{"data":{"name":"rules"},"transform":[{"filter":"datum.f=='dock'"}],"mark":{"type":"rule","color":"#b2b2ba","strokeWidth":3},"encoding":{"x":{"field":"x0","type":"quantitative","scale":{"domain":[0,1],"range":[1182,2303.5]}},"x2":{"field":"x1"},"y":{"field":"y0","type":"quantitative","scale":{"domain":[1,4],"range":[1635,1785]}},"y2":{"field":"y1"}}},
{"data":{"name":"dock"},"mark":{"type":"text","font":"DejaVu Sans Mono","fontSize":23,"align":"center","baseline":"middle"},"encoding":{"x":{"datum":0.5,"type":"quantitative","scale":{"domain":[0,1],"range":[1182,2303.5]}},"y":{"field":"r","type":"quantitative","scale":{"domain":[1,4],"range":[1635,1785]}},"text":{"field":"t"},"color":{"field":"tone","type":"nominal","scale":{"domain":["light","cyan","lime","magenta"],"range":["#b0b0b8","#00e5ff","#18f050","#d633f0"]}}}}
]},
{"resolve":{"scale":{"color":"independent"}},"layer":[
{"data":{"name":"frames"},"transform":[{"filter":"datum.f=='lode'"}],"mark":{"type":"rect","color":"#0a0f16"},"encoding":{"x":{"field":"x0","type":"quantitative","scale":{"domain":[0,1],"range":[1582,1904]}},"x2":{"field":"x1"},"y":{"field":"y0","type":"quantitative","scale":{"domain":[0,3],"range":[6.3,105.3]}},"y2":{"field":"y1"}}},
{"data":{"name":"rules"},"transform":[{"filter":"datum.f=='lode'"}],"mark":{"type":"rule","color":"#8a7320","strokeWidth":1},"encoding":{"x":{"field":"x0","type":"quantitative","scale":{"domain":[0,1],"range":[1582,1904]}},"x2":{"field":"x1"},"y":{"field":"y0","type":"quantitative","scale":{"domain":[0,3],"range":[6.3,105.3]}},"y2":{"field":"y1"}}},
{"data":{"values":[{"r":0,"t":"[ 🧲 LODESTONE DYNAMICS ]"}]},"mark":{"type":"text","font":"Noto Sans","fontSize":16,"align":"center","baseline":"middle","color":"#fdd835","fontWeight":500},"encoding":{"x":{"datum":0.5,"type":"quantitative","scale":{"domain":[0,1],"range":[1582,1904]}},"y":{"field":"r","type":"quantitative","scale":{"domain":[0,3],"range":[6.3,105.3]}},"text":{"field":"t"}}},
{"data":{"name":"lode"},"mark":{"type":"text","font":"Noto Sans","fontSize":16,"align":"left","baseline":"middle","dx":6,"fontWeight":500},"encoding":{"x":{"datum":0,"type":"quantitative","scale":{"domain":[0,1],"range":[1582,1904]}},"y":{"field":"r","type":"quantitative","scale":{"domain":[0,3],"range":[6.3,105.3]}},"text":{"field":"a"},"color":{"field":"tl","type":"nominal","scale":{"domain":["gray","white"],"range":["#9e9ea8","#ffffff"]}}}},
{"data":{"name":"lode"},"mark":{"type":"text","font":"Noto Sans","fontSize":16,"align":"right","baseline":"middle","dx":-7,"fontWeight":500},"encoding":{"x":{"datum":1,"type":"quantitative","scale":{"domain":[0,1],"range":[1582,1904]}},"y":{"field":"r","type":"quantitative","scale":{"domain":[0,3],"range":[6.3,105.3]}},"text":{"field":"b"},"color":{"field":"tone","type":"nominal","scale":{"domain":["green","yellow"],"range":["#00e676","#ffca28"]}}}}
]},
{"layer":[
{"data":{"name":"frames"},"transform":[{"filter":"datum.f=='mal'"}],"mark":{"type":"rect","color":"#05070b"},"encoding":{"x":{"field":"x0","type":"quantitative","scale":{"domain":[0,1],"range":[3122,3547]}},"x2":{"field":"x1"},"y":{"field":"y0","type":"quantitative","scale":{"domain":[0,3],"range":[850.6,949.6]}},"y2":{"field":"y1"}}},
{"data":{"name":"rules"},"transform":[{"filter":"datum.f=='mal'"}],"mark":{"type":"rule","color":"#0a6a7a","strokeWidth":1},"encoding":{"x":{"field":"x0","type":"quantitative","scale":{"domain":[0,1],"range":[3122,3547]}},"x2":{"field":"x1"},"y":{"field":"y0","type":"quantitative","scale":{"domain":[0,3],"range":[850.6,949.6]}},"y2":{"field":"y1"}}},
{"data":{"values":[{"r":0,"t":"[ ⚡ MALACHI A.I.: SPEED CORE ]"}]},"mark":{"type":"text","font":"Noto Sans","fontSize":16,"align":"center","baseline":"middle","color":"#00acc1","fontWeight":500},"encoding":{"x":{"datum":0.506,"type":"quantitative","scale":{"domain":[0,1],"range":[3122,3547]}},"y":{"field":"r","type":"quantitative","scale":{"domain":[0,3],"range":[850.6,949.6]}},"text":{"field":"t"}}},
{"data":{"name":"gauges"},"transform":[{"filter":"datum.f=='mal'&&datum.r<3"}],"mark":{"type":"text","font":"Noto Sans","fontSize":16,"align":"left","baseline":"middle","dx":6,"color":"#9e9ea8","fontWeight":500},"encoding":{"x":{"datum":0,"type":"quantitative","scale":{"domain":[0,1],"range":[3122,3547]}},"y":{"field":"r","type":"quantitative","scale":{"domain":[0,3],"range":[850.6,949.6]}},"text":{"field":"a"}}},
{"data":{"name":"gauges"},"transform":[{"filter":"datum.f=='mal'&&datum.r==3"}],"mark":{"type":"text","font":"Noto Sans","fontSize":16,"align":"left","baseline":"middle","dx":6,"color":"#ffffff","fontWeight":600},"encoding":{"x":{"datum":0,"type":"quantitative","scale":{"domain":[0,1],"range":[3122,3547]}},"y":{"field":"r","type":"quantitative","scale":{"domain":[0,3],"range":[850.6,949.6]}},"text":{"field":"a"}}},
{"data":{"name":"gauges"},"transform":[{"filter":"datum.f=='mal'&&datum.pct>=10"}],"mark":{"type":"text","font":"DejaVu Sans Mono","fontSize":20.5,"align":"right","baseline":"middle","color":"#00e676"},"encoding":{"x":{"datum":0.9254,"type":"quantitative","scale":{"domain":[0,1],"range":[3122,3547]}},"y":{"field":"r","type":"quantitative","scale":{"domain":[0,3],"range":[850.6,949.6]}},"text":{"field":"g"}}},
{"data":{"name":"gauges"},"transform":[{"filter":"datum.f=='mal'&&datum.pct<10"}],"mark":{"type":"text","font":"DejaVu Sans Mono","fontSize":20.5,"align":"right","baseline":"middle","color":"#00e676","dx":9},"encoding":{"x":{"datum":0.9254,"type":"quantitative","scale":{"domain":[0,1],"range":[3122,3547]}},"y":{"field":"r","type":"quantitative","scale":{"domain":[0,3],"range":[850.6,949.6]}},"text":{"field":"g"}}},
{"data":{"name":"gauges"},"transform":[{"filter":"datum.f=='mal'"}],"mark":{"type":"text","font":"Noto Sans","fontSize":15,"align":"right","baseline":"middle","color":"#00e676","dx":-2,"fontWeight":500},"encoding":{"x":{"datum":1,"type":"quantitative","scale":{"domain":[0,1],"range":[3122,3547]}},"y":{"field":"r","type":"quantitative","scale":{"domain":[0,3],"range":[850.6,949.6]}},"text":{"field":"b"}}}
]},
{"layer":[
{"data":{"name":"frames"},"transform":[{"filter":"datum.f=='uly'"}],"mark":{"type":"rect","color":"#05070b"},"encoding":{"x":{"field":"x0","type":"quantitative","scale":{"domain":[0,1],"range":[3112,3547]}},"x2":{"field":"x1"},"y":{"field":"y0","type":"quantitative","scale":{"domain":[0,3],"range":[1692.3,1791.3]}},"y2":{"field":"y1"}}},
{"data":{"name":"rules"},"transform":[{"filter":"datum.f=='uly'"}],"mark":{"type":"rule","color":"#7b1f90","strokeWidth":1},"encoding":{"x":{"field":"x0","type":"quantitative","scale":{"domain":[0,1],"range":[3112,3547]}},"x2":{"field":"x1"},"y":{"field":"y0","type":"quantitative","scale":{"domain":[0,3],"range":[1692.3,1791.3]}},"y2":{"field":"y1"}}},
{"data":{"values":[{"r":0,"t":"[ 🧠 ULYSSES A.I.: MACRO CORE ]"}]},"mark":{"type":"text","font":"Noto Sans","fontSize":16,"align":"center","baseline":"middle","color":"#d633f0","fontWeight":500},"encoding":{"x":{"datum":0.5057,"type":"quantitative","scale":{"domain":[0,1],"range":[3112,3547]}},"y":{"field":"r","type":"quantitative","scale":{"domain":[0,3],"range":[1692.3,1791.3]}},"text":{"field":"t"}}},
{"data":{"name":"gauges"},"transform":[{"filter":"datum.f=='uly'&&datum.r<3"}],"mark":{"type":"text","font":"Noto Sans","fontSize":16,"align":"left","baseline":"middle","dx":6,"color":"#9e9ea8","fontWeight":500},"encoding":{"x":{"datum":0,"type":"quantitative","scale":{"domain":[0,1],"range":[3112,3547]}},"y":{"field":"r","type":"quantitative","scale":{"domain":[0,3],"range":[1692.3,1791.3]}},"text":{"field":"a"}}},
{"data":{"name":"gauges"},"transform":[{"filter":"datum.f=='uly'&&datum.r==3"}],"mark":{"type":"text","font":"Noto Sans","fontSize":16,"align":"left","baseline":"middle","dx":6,"color":"#ffffff","fontWeight":600},"encoding":{"x":{"datum":0,"type":"quantitative","scale":{"domain":[0,1],"range":[3112,3547]}},"y":{"field":"r","type":"quantitative","scale":{"domain":[0,3],"range":[1692.3,1791.3]}},"text":{"field":"a"}}},
{"data":{"name":"gauges"},"transform":[{"filter":"datum.f=='uly'"}],"mark":{"type":"text","font":"DejaVu Sans Mono","fontSize":20.5,"align":"right","baseline":"middle","color":"#00e676"},"encoding":{"x":{"datum":0.9271,"type":"quantitative","scale":{"domain":[0,1],"range":[3112,3547]}},"y":{"field":"r","type":"quantitative","scale":{"domain":[0,3],"range":[1692.3,1791.3]}},"text":{"field":"g"}}},
{"data":{"name":"gauges"},"transform":[{"filter":"datum.f=='uly'"}],"mark":{"type":"text","font":"Noto Sans","fontSize":15,"align":"right","baseline":"middle","color":"#00e676","dx":-2,"fontWeight":500},"encoding":{"x":{"datum":1,"type":"quantitative","scale":{"domain":[0,1],"range":[3112,3547]}},"y":{"field":"r","type":"quantitative","scale":{"domain":[0,3],"range":[1692.3,1791.3]}},"text":{"field":"b"}}}
]}
]}
